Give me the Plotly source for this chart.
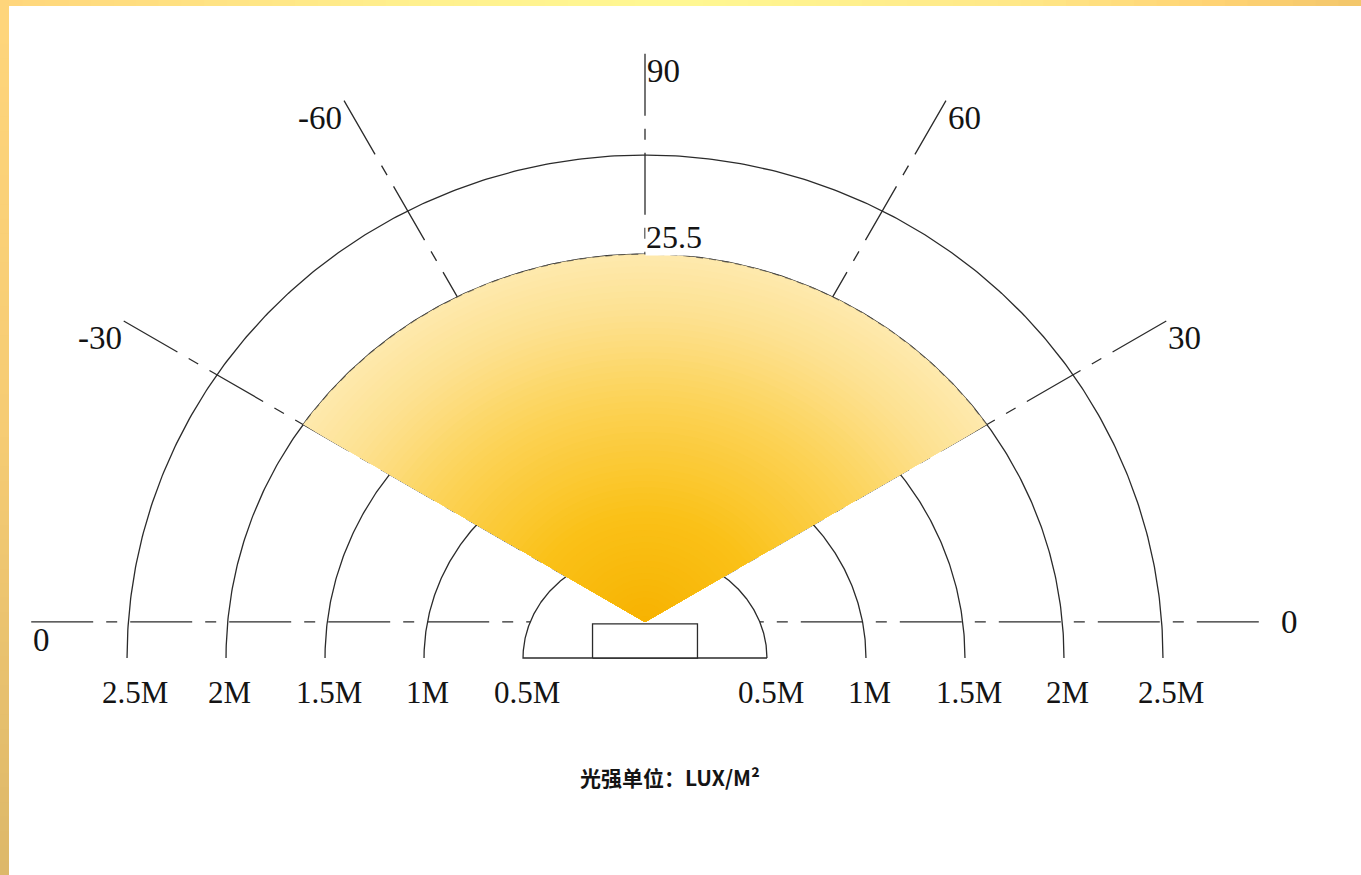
import numpy as np
import plotly.graph_objects as go

# ---------------- data ----------------
distances = [0.5, 1.0, 1.5, 2.0, 2.5]                      # metres
distance_labels = ["0.5M", "1M", "1.5M", "2M", "2.5M"]
ray_labels = ["0", "-30", "-60", "90", "60", "30", "0"]
ray_polar_deg = [180, 150, 120, 90, 60, 30, 0]              # direction of each ray
beam_edges_deg = [30, 150]                                 # beam spans -60 .. 60 from vertical
beam_reach = 2.0                                           # metres
peak_lux = 25.5
unit_text = "光强单位：LUX/M²"

# ---------------- style ----------------
W, H = 1361, 875
PX = 198.0                       # pixels per metre
CX, CY = 645.0, 658.0            # pixel position of the arc centre
PAD_X, PAD_Y = 0.116, 0.04       # drawing pad of the distance arcs
APEX_Y = 0.182                   # beam origin above arc centre
RAY_LEN = 3.04
RAY_LEN_V = 2.87
BASE_LEN = 3.1
DEV_W, DEV_H = 0.53, 0.172
LINE = "#2b2b2b"
FONT = "Liberation Serif"
TXT = "#141414"

xr = [(0 - CX) / PX, (W - CX) / PX]
yr = [-(H - CY) / PX, CY / PX]

fig = go.Figure()


def ell(r, t):
    return (r + PAD_X) * np.cos(t), (r + PAD_Y) * np.sin(t)


# ---- rays (dash-dot), drawn from outer end toward the apex ----
ray_ends = []
for lab, ang in zip(ray_labels, ray_polar_deg):
    L = BASE_LEN if ang in (0, 180) else (RAY_LEN_V if ang == 90 else RAY_LEN)
    a = np.radians(ang)
    ex, ey = L * np.cos(a), APEX_Y + L * np.sin(a)
    ray_ends.append((ex, ey))
    fig.add_trace(go.Scatter(x=[ex, 0], y=[ey, APEX_Y], mode="lines",
                             line=dict(color=LINE, width=1.3, dash="62px,13px,11px,13px"),
                             hoverinfo="skip", showlegend=False))

# ---- distance arcs ----
t = np.linspace(0, np.pi, 400)
for r in distances:
    x, y = ell(r, t)
    if r == distances[0]:
        # innermost half-ellipse, closed by its base line and blanking the axis inside
        fig.add_trace(go.Scatter(x=np.append(x, x[0]), y=np.append(y, y[0]), mode="lines",
                                 fill="toself", fillcolor="white",
                                 line=dict(color=LINE, width=1.3),
                                 hoverinfo="skip", showlegend=False))
    else:
        fig.add_trace(go.Scatter(x=x, y=y, mode="lines", line=dict(color=LINE, width=1.3),
                                 hoverinfo="skip", showlegend=False))

# ---- beam fan ----
a_e, b_e = beam_reach + PAD_X, beam_reach + PAD_Y


def corner(deg):
    p = np.radians(deg)
    c, s = np.cos(p), np.sin(p)
    A = c * c / a_e ** 2 + s * s / b_e ** 2
    B = 2 * APEX_Y * s / b_e ** 2
    C = APEX_Y ** 2 / b_e ** 2 - 1
    tt = (-B + np.sqrt(B * B - 4 * A * C)) / (2 * A)
    x, y = tt * c, APEX_Y + tt * s
    return np.arctan2(y / b_e, x / a_e)


t0, t1 = corner(beam_edges_deg[0]), corner(beam_edges_deg[1])
tb = np.linspace(t0, t1, 300)
fx = np.concatenate([[0], a_e * np.cos(tb), [0]])
fy = np.concatenate([[APEX_Y], b_e * np.sin(tb), [APEX_Y]])

stops_s = [0.0, 0.3, 0.6, 0.85, 1.0]
stops_c = np.array([[247, 178, 0], [250, 193, 24], [252, 210, 84],
                    [253, 225, 145], [254, 233, 172]], dtype=float)
N = 60
for k in range(N):
    s = 1 - k / N
    col = [np.interp(s, stops_s, stops_c[:, j]) for j in range(3)]
    fig.add_trace(go.Scatter(x=fx * s, y=APEX_Y + (fy - APEX_Y) * s, mode="lines",
                             fill="toself",
                             fillcolor="rgb(%d,%d,%d)" % tuple(int(round(v)) for v in col),
                             line=dict(width=0), hoverinfo="skip", showlegend=False))

# dashed outline of the reach arc over the beam
fig.add_trace(go.Scatter(x=a_e * np.cos(tb), y=b_e * np.sin(tb), mode="lines",
                         line=dict(color="rgba(60,60,60,0.6)", width=1.1, dash="7px,6px"),
                         hoverinfo="skip", showlegend=False))

# ---- device ----
fig.add_trace(go.Scatter(x=[-DEV_W / 2, DEV_W / 2, DEV_W / 2, -DEV_W / 2, -DEV_W / 2],
                         y=[0, 0, DEV_H, DEV_H, 0], mode="lines", fill="toself",
                         fillcolor="white", line=dict(color=LINE, width=1.3),
                         hoverinfo="skip", showlegend=False))

# ---- annotations ----
ann = []
for r, lab in zip(distances, distance_labels):
    for sgn in (-1, 1):
        ann.append(dict(x=sgn * (r + PAD_X) + (0.04 if r == 2.5 else 0.02), y=-0.172,
                        text=lab, showarrow=False,
                        xanchor="center", yanchor="middle",
                        font=dict(family=FONT, size=31, color=TXT)))

for i, (lab, ang) in enumerate(zip(ray_labels, ray_polar_deg)):
    ex, ey = ray_ends[i]
    d = dict(x=ex, y=ey, text=lab, showarrow=False,
             font=dict(family=FONT, size=33, color=TXT))
    if ang == 180:
        d.update(xanchor="left", yanchor="top", yshift=2)
    elif ang == 0:
        d.update(xanchor="left", yanchor="middle", xshift=20)
    elif ang > 90:
        d.update(xanchor="right", yanchor="top", yshift=3)
    else:
        d.update(xanchor="left", yanchor="top", yshift=3)
    ann.append(d)

ann.append(dict(x=0, y=b_e, text=f"{peak_lux}", showarrow=False, xanchor="left",
                yanchor="bottom", yshift=-2, bgcolor="white", borderpad=0,
                font=dict(family=FONT, size=32, color=TXT)))
ann.append(dict(x=(670 - CX) / PX, y=-(777 - CY) / PX, text=unit_text, showarrow=False,
                xanchor="center", yanchor="middle",
                font=dict(family="Noto Sans CJK SC", size=21, color=TXT, weight=600)))

# ---- frame bands (decoration) ----
shapes = []
top_pos = [0, 0.1, 0.3, 0.5, 0.75, 0.9, 1.0]
top_col = np.array([[255, 214, 124], [255, 222, 128], [255, 240, 142], [255, 248, 147],
                    [255, 232, 136], [255, 210, 115], [242, 198, 107]], dtype=float)
NB = 60
for k in range(NB):
    u0, u1 = k / NB, (k + 1) / NB
    c = [np.interp((u0 + u1) / 2, top_pos, top_col[:, j]) for j in range(3)]
    shapes.append(dict(type="rect", xref="paper", yref="paper", x0=u0, x1=u1 + 0.001,
                       y0=1 - 6 / H, y1=1, line=dict(width=0),
                       fillcolor="rgb(%d,%d,%d)" % tuple(int(v) for v in c), layer="above"))
left_pos = [0, 0.5, 1.0]
left_col = np.array([[255, 214, 124], [246, 204, 116], [221, 184, 106]], dtype=float)
for k in range(NB):
    v0, v1 = k / NB, (k + 1) / NB
    c = [np.interp((v0 + v1) / 2, left_pos, left_col[:, j]) for j in range(3)]
    shapes.append(dict(type="rect", xref="paper", yref="paper", x0=0, x1=9 / W,
                       y0=1 - v1 - 0.001, y1=1 - v0, line=dict(width=0),
                       fillcolor="rgb(%d,%d,%d)" % tuple(int(v) for v in c), layer="above"))

fig.update_layout(
    width=W, height=H, margin=dict(l=0, r=0, t=0, b=0),
    paper_bgcolor="white", plot_bgcolor="white",
    xaxis=dict(range=xr, visible=False, fixedrange=True),
    yaxis=dict(range=yr, visible=False, fixedrange=True),
    annotations=ann, shapes=shapes, showlegend=False,
)

fig.write_html("out.html", config={"displayModeBar": False})
